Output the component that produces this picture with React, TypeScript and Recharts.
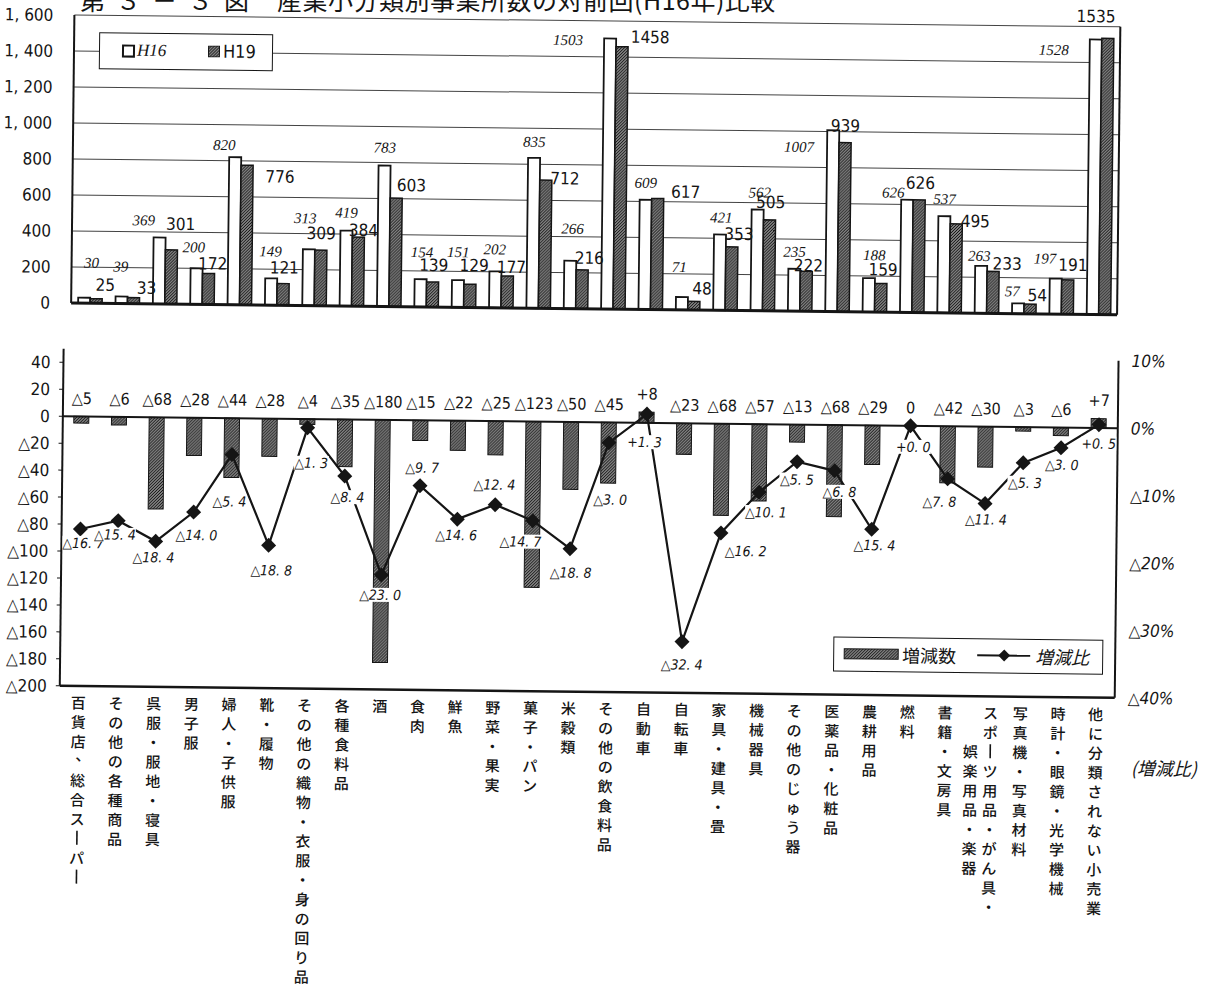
import React from 'react';
import {
  ComposedChart,
  BarChart,
  Bar,
  Line,
  XAxis,
  YAxis,
  CartesianGrid,
  LabelList,
  Legend,
  ReferenceLine,
} from 'recharts';

// 業種（小分類）
const categories = [
  '百貨店、総合スーパー',
  'その他の各種商品',
  '呉服・服地・寝具',
  '男子服',
  '婦人・子供服',
  '靴・履物',
  'その他の織物・衣服・身の回り品',
  '各種食料品',
  '酒',
  '食肉',
  '鮮魚',
  '野菜・果実',
  '菓子・パン',
  '米穀類',
  'その他の飲食料品',
  '自動車',
  '自転車',
  '家具・建具・畳',
  '機械器具',
  'その他のじゅう器',
  '医薬品・化粧品',
  '農耕用品',
  '燃料',
  '書籍・文房具',
  'スポーツ用品・がん具・\n娯楽用品・楽器',
  '写真機・写真材料',
  '時計・眼鏡・光学機械',
  '他に分類されない小売業',
];

// 事業所数
const h16 = [30, 39, 369, 200, 820, 149, 313, 419, 783, 154, 151, 202, 835, 266, 1503, 609, 71, 421, 562, 235, 1007, 188, 626, 537, 263, 57, 197, 1528];
const h19 = [25, 33, 301, 172, 776, 121, 309, 384, 603, 139, 129, 177, 712, 216, 1458, 617, 48, 353, 505, 222, 939, 159, 626, 495, 233, 54, 191, 1535];

// 増減数・増減比(%)
const diff = [-5, -6, -68, -28, -44, -28, -4, -35, -180, -15, -22, -25, -123, -50, -45, 8, -23, -68, -57, -13, -68, -29, 0, -42, -30, -3, -6, 7];
const rate = [-16.7, -15.4, -18.4, -14.0, -5.4, -18.8, -1.3, -8.4, -23.0, -9.7, -14.6, -12.4, -14.7, -18.8, -3.0, 1.3, -32.4, -16.2, -10.1, -5.5, -6.8, -15.4, 0.0, -7.8, -11.4, -5.3, -3.0, 0.5];

const countTicks = [0, 200, 400, 600, 800, 1000, 1200, 1400, 1600];
const diffTicks = [40, 20, 0, -20, -40, -60, -80, -100, -120, -140, -160, -180, -200];
const rateTicks = [10, 0, -10, -20, -30, -40];

// 手で動かしたデータラベルの位置（棒の上端／点からのずれ）
const h16LabelShift = [
  [7, -35], [-1, -30], [-16, -17], [-3, -21], [-11, -12], [-1, -27], [-4, -31], [0, -18], [0, -18], [1, -27],
  [0, -28], [-1, -22], [0, -16], [2, -32], [-42, 2], [0, -17], [-3, -30], [1, -17], [2, -17], [0, -17],
  [-34, 17], [5, -23], [-14, -7], [0, -17], [-2, -10], [-6, -12], [-11, -20], [-42, 11],
];
const h19LabelShift = [
  [9, -14], [13, -10], [9, -26], [4, -10], [33, 11], [1, -16], [0, -17], [5, -7], [15, -13], [1, -17],
  [4, -19], [4, -9], [19, -2], [7, -12], [28, -10], [28, -7], [8, -13], [7, -13], [1, -18], [2, -6],
  [0, -17], [2, -14], [1, -17], [19, -3], [14, -8], [7, -9], [5, -15], [-12, -22],
];
const rateLabelShift = [
  [3, 14], [-3, 14], [-2, 16], [3, 23], [-2, 47], [3, 25], [4, 35], [3, 21], [-1, 20], [2, -18],
  [-1, 16], [-1, -20], [-12, 21], [1, 24], [2, 57], [-2, 28], [0, 23], [25, 18], [7, 20], [0, 18],
  [5, 21], [3, 16], [3, 21], [-8, 23], [1, 16], [2, 20], [1, 17], [0, 19],
];

const countData = categories.map((name, i) => ({ name, h16: h16[i], h19: h19[i] }));
const changeData = categories.map((name, i) => ({ name, diff: diff[i], rate: rate[i] }));

const NARROW = '"Liberation Sans Narrow", "DejaVu Sans Condensed", "Noto Sans CJK JP", sans-serif';
const SERIF = '"Liberation Serif", "DejaVu Serif", serif';
const JP = '"Noto Sans CJK JP", sans-serif';
const INK = '#151515';

const fmtCount = (v: number) =>
  v >= 1000 ? `${Math.floor(v / 1000)}, ${String(v % 1000).padStart(3, '0')}` : `${v}`;
const fmtAxis = (v: number) => (v < 0 ? `△${-v}` : `${v}`);
const fmtDiff = (v: number) => (v > 0 ? `+${v}` : v < 0 ? `△${-v}` : '0');
const fmtRate = (v: number) =>
  `${v < 0 ? '△' : '+'}${Math.abs(v).toFixed(1).replace('.', '. ')}`;
const fmtPct = (v: number) => (v < 0 ? `△${-v}%` : `${v}%`);

// 増減数ラベルの基準点（0以下は0の線）
const diffLabelBase = (d: { diff: number }) => Math.max(d.diff, 0);

const H16Label = (props: any) => {
  const { x, y, width, value, index } = props;
  const [dx, dy] = h16LabelShift[index] ?? [0, -12];
  return (
    <text x={x + width / 2 + dx} y={y + dy} textAnchor="middle" dominantBaseline="central"
      fontFamily={SERIF} fontStyle="italic" fontSize={15} fill={INK}>
      {value}
    </text>
  );
};

const H19Label = (props: any) => {
  const { x, y, width, value, index } = props;
  const [dx, dy] = h19LabelShift[index] ?? [0, -12];
  return (
    <text x={x + width / 2 + dx} y={y + dy} textAnchor="middle" dominantBaseline="central"
      fontFamily={NARROW} fontSize={17} fill={INK}>
      {value}
    </text>
  );
};

const DiffLabel = (props: any) => {
  const { x, y, value } = props;
  return (
    <text x={x} y={y - 18} textAnchor="middle" dominantBaseline="central"
      fontFamily={NARROW} fontSize={16} fill={INK}>
      {fmtDiff(value)}
    </text>
  );
};

// 白抜きのラベル（下の棒・折れ線を隠す）
const RateLabel = (props: any) => {
  const { x, y, value, index } = props;
  const [dx, dy] = rateLabelShift[index] ?? [0, 16];
  const text = fmtRate(value);
  const w = text.length * 6.6 + 2;
  const cx = x + dx;
  const cy = y + dy;
  return (
    <g>
      <rect x={cx - w / 2} y={cy - 7} width={w} height={14} fill="#fff" />
      <text x={cx} y={cy} textAnchor="middle" dominantBaseline="central"
        fontFamily={NARROW} fontStyle="italic" fontSize={14} fill={INK}>
        {text}
      </text>
    </g>
  );
};

const Diamond = (props: any) => {
  const { cx, cy, index } = props;
  const r = 7.5;
  return (
    <path key={`dia-${index}`} d={`M${cx},${cy - r}L${cx + r},${cy}L${cx},${cy + r}L${cx - r},${cy}Z`} fill={INK} />
  );
};

// 縦書きの業種名
const CategoryTick = (props: any) => {
  const { x, y, payload } = props;
  const cols = String(payload.value).split('\n');
  const pitch = 19.4;
  return (
    <g>
      {cols.map((col, ci) => {
        const colX = cols.length > 1 ? (ci === 0 ? x + 8 : x - 12) : x;
        const start = ci === 0 ? 0 : 2;
        return Array.from(col).map((ch, k) => {
          const cy = y + 16 + (start + k) * pitch;
          if (ch === 'ー') {
            return <line key={`${ci}-${k}`} x1={colX} x2={colX} y1={cy - 7} y2={cy + 7} stroke={INK} strokeWidth={1.6} />;
          }
          const comma = ch === '、';
          return (
            <text key={`${ci}-${k}`} x={colX + (comma ? 5 : 0)} y={cy - (comma ? 6 : 0)}
              textAnchor="middle" dominantBaseline="central" fontFamily={JP} fontWeight={500} fontSize={15} fill={INK}>
              {ch}
            </text>
          );
        });
      })}
    </g>
  );
};

const CountLegend = () => (
  <div style={{ position: 'relative', width: 174, height: 37, border: `1.5px solid ${INK}`, boxSizing: 'border-box', background: '#fff' }}>
    <span style={{ position: 'absolute', left: 22, top: 11, width: 9, height: 9, border: `2px solid ${INK}`, background: '#fff' }} />
    <span style={{ position: 'absolute', left: 37, top: 0, lineHeight: '34px', fontFamily: SERIF, fontStyle: 'italic', fontSize: 17, color: INK }}>H16</span>
    <svg width={12} height={12} style={{ position: 'absolute', left: 108, top: 11 }}>
      <rect x={0.5} y={0.5} width={11} height={11} fill="url(#stipple)" stroke={INK} />
    </svg>
    <span style={{ position: 'absolute', left: 123, top: 0, lineHeight: '34px', fontFamily: NARROW, fontSize: 18, color: INK }}>H19</span>
  </div>
);

const ChangeLegend = () => (
  <div style={{ position: 'relative', width: 270, height: 35, border: `1.5px solid ${INK}`, boxSizing: 'border-box', background: '#fff' }}>
    <svg width={268} height={32} style={{ position: 'absolute', left: 0, top: 0 }}>
      <rect x={10} y={11} width={54} height={10} fill="url(#stipple)" stroke={INK} />
      <line x1={143} x2={196} y1={16} y2={16} stroke={INK} strokeWidth={2} />
      <path d="M170,10L176,16L170,22L164,16Z" fill={INK} />
    </svg>
    <span style={{ position: 'absolute', left: 68, top: 0, lineHeight: '32px', fontFamily: JP, fontSize: 18, color: INK }}>増減数</span>
    <span style={{ position: 'absolute', left: 201, top: 0, lineHeight: '32px', fontFamily: JP, fontStyle: 'italic', fontSize: 18, color: INK }}>増減比</span>
  </div>
);

export default function App() {
  return (
    <div style={{ position: 'absolute', left: 0, top: 0, width: 1211, height: 988, background: '#fff', overflow: 'hidden' }}>
      <svg width={0} height={0} style={{ position: 'absolute' }}>
        <defs>
          <pattern id="stipple" width={3} height={3} patternUnits="userSpaceOnUse">
            <rect width={3} height={3} fill="#808080" />
            <rect x={0} y={0} width={1} height={1} fill="#111" />
            <rect x={2} y={1} width={1} height={1} fill="#111" />
            <rect x={1} y={2} width={1} height={1} fill="#111" />
          </pattern>
        </defs>
      </svg>

      <div style={{ position: 'absolute', left: 0, top: 0, width: 1211, height: 988, transform: 'rotate(0.65deg)', transformOrigin: '605px 494px' }}>
        {/* 事業所数 H16 / H19 */}
        <div style={{ position: 'absolute', left: 0, top: 0 }}>
          <BarChart width={1211} height={330} data={countData} margin={{ top: 21, right: 0, bottom: 0, left: 0 }} barGap={0}>
            <CartesianGrid vertical={false} stroke="#444" strokeWidth={1} />
            <XAxis dataKey="name" height={21} tick={false} tickLine={false} axisLine={{ stroke: INK, strokeWidth: 3 }} />
            <XAxis xAxisId="top" orientation="top" dataKey="name" height={0} tick={false} tickLine={false} axisLine={{ stroke: INK, strokeWidth: 2.5 }} />
            <YAxis domain={[0, 1600]} ticks={countTicks} width={69} tickFormatter={fmtCount} tickLine={false} tickSize={0} tickMargin={21}
              axisLine={{ stroke: INK, strokeWidth: 2 }} tick={{ fontFamily: NARROW, fontSize: 17, fill: INK }} />
            <YAxis yAxisId="right" orientation="right" width={96} tick={false} tickLine={false} axisLine={{ stroke: INK, strokeWidth: 2 }} />
            <Legend layout="horizontal" verticalAlign="middle" align="center" content={<CountLegend />}
              wrapperStyle={{ left: 94, top: 38, width: 174, height: 37 }} />
            <Bar dataKey="h16" name="H16" barSize={12} fill="#fff" stroke={INK} strokeWidth={1.8} isAnimationActive={false}>
              <LabelList dataKey="h16" content={<H16Label />} />
            </Bar>
            <Bar dataKey="h19" name="H19" barSize={12} fill="url(#stipple)" stroke={INK} strokeWidth={1.5} isAnimationActive={false}>
              <LabelList dataKey="h19" content={<H19Label />} />
            </Bar>
          </BarChart>
        </div>

        {/* 増減数・増減比 */}
        <div style={{ position: 'absolute', left: 0, top: 330 }}>
          <ComposedChart width={1211} height={658} data={changeData} margin={{ top: 25, right: 0, bottom: 0, left: 0 }}>
            <XAxis dataKey="name" height={296} interval={0} tickLine={false} tickSize={0} tickMargin={0}
              axisLine={{ stroke: INK, strokeWidth: 2.5 }} tick={<CategoryTick />} />
            <XAxis xAxisId="top" orientation="top" dataKey="name" height={0} tick={false} tickLine={false} axisLine={{ stroke: INK, strokeWidth: 2 }} />
            <YAxis yAxisId="count" domain={[-200, 50]} ticks={diffTicks} width={62} tickFormatter={fmtAxis} interval={0}
              tickSize={4} tickMargin={9} tickLine={{ stroke: INK }} axisLine={{ stroke: INK, strokeWidth: 2 }}
              tick={{ fontFamily: NARROW, fontSize: 17, fill: INK }} />
            <YAxis yAxisId="rate" orientation="right" domain={[-40, 10]} ticks={rateTicks} width={94} tickFormatter={fmtPct} interval={0}
              tickLine={false} tickSize={0} tickMargin={13} axisLine={{ stroke: INK, strokeWidth: 2 }}
              tick={{ fontFamily: NARROW, fontStyle: 'italic', fontSize: 17, fill: INK, textAnchor: 'start' }} />
            <ReferenceLine yAxisId="count" y={0} stroke={INK} strokeWidth={2} />
            <Legend layout="horizontal" verticalAlign="middle" align="center" content={<ChangeLegend />}
              wrapperStyle={{ left: 835, top: 304, width: 270, height: 35 }} />
            <Bar yAxisId="count" dataKey="diff" name="増減数" barSize={15} fill="url(#stipple)" stroke={INK} strokeWidth={1} isAnimationActive={false} />
            {/* 増減数のラベルだけを載せる見えない系列 */}
            <Line yAxisId="count" dataKey={diffLabelBase} stroke="none" dot={false} activeDot={false} legendType="none" isAnimationActive={false}>
              <LabelList dataKey="diff" content={<DiffLabel />} />
            </Line>
            <Line yAxisId="rate" dataKey="rate" name="増減比" stroke={INK} strokeWidth={2.2} dot={<Diamond />} activeDot={false} isAnimationActive={false}>
              <LabelList dataKey="rate" content={<RateLabel />} />
            </Line>
          </ComposedChart>
        </div>

        <div style={{ position: 'absolute', left: 1167, top: 761, transform: 'translate(-50%, -50%)', fontFamily: JP, fontStyle: 'italic', fontSize: 18, color: INK, whiteSpace: 'nowrap' }}>
          (増減比)
        </div>
      </div>

      <svg width={1211} height={20} style={{ position: 'absolute', left: 0, top: 0 }}>
        <text x={80} y={10} fontFamily={JP} fontSize={25} letterSpacing={11} fill={INK}>第３－３図</text>
        <text x={277} y={10} fontFamily={JP} fontSize={25} letterSpacing={0.5} fill={INK}>産業小分類別事業所数の対前回(H16年)比較</text>
      </svg>
    </div>
  );
}
